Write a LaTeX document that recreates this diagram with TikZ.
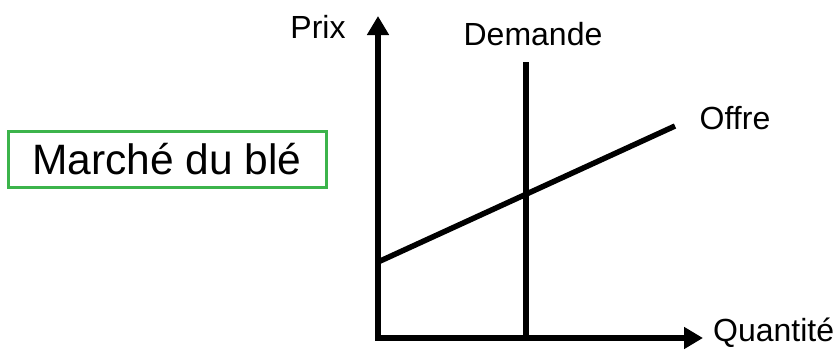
\documentclass[tikz,border=0pt]{standalone}
\usepackage{fontspec}
\setmainfont{Liberation Sans}
\usetikzlibrary{arrows.meta,calc}
\begin{document}
\begin{tikzpicture}[x=1pt,y=-1pt,
  axis/.style={line width=5.5pt,-{Triangle[length=19pt,width=21pt]}},
  curve/.style={line width=5.5pt},
  lbl/.style={font=\fontsize{32}{36}\selectfont,inner sep=0pt},
  title/.style={draw=boxgreen,line width=3pt,font=\fontsize{42.5}{48}\selectfont,minimum width=318pt,minimum height=56pt,inner sep=0pt}]
\definecolor{boxgreen}{RGB}{60,180,75}
\useasboundingbox (0,0) rectangle (834,349);
\coordinate (O) at (378,338);
\coordinate (ytop) at (378,16);
\coordinate (xend) at (703,338);
\coordinate (d1) at (526,62);
\coordinate (d2) at (526,338);
\coordinate (s1) at (378,262);
\coordinate (s2) at (675,126);
\draw[axis] ($(O)+(0,2.75)$) -- (ytop);
\draw[axis] ($(O)+(-2.75,0)$) -- (xend);
\draw[curve] (d1) -- (d2);
\draw[curve] (s1) -- (s2);
\node[lbl] (prix) at (318,27) {Prix};
\node[lbl] (dem) at (533,34) {Demande};
\node[lbl] (off) at (735,118) {Offre};
\node[lbl,anchor=west] (qte) at (713,333) {Quantité};
\node[title] (box) at (167,159) {Marché du blé};
\end{tikzpicture}
\end{document}
